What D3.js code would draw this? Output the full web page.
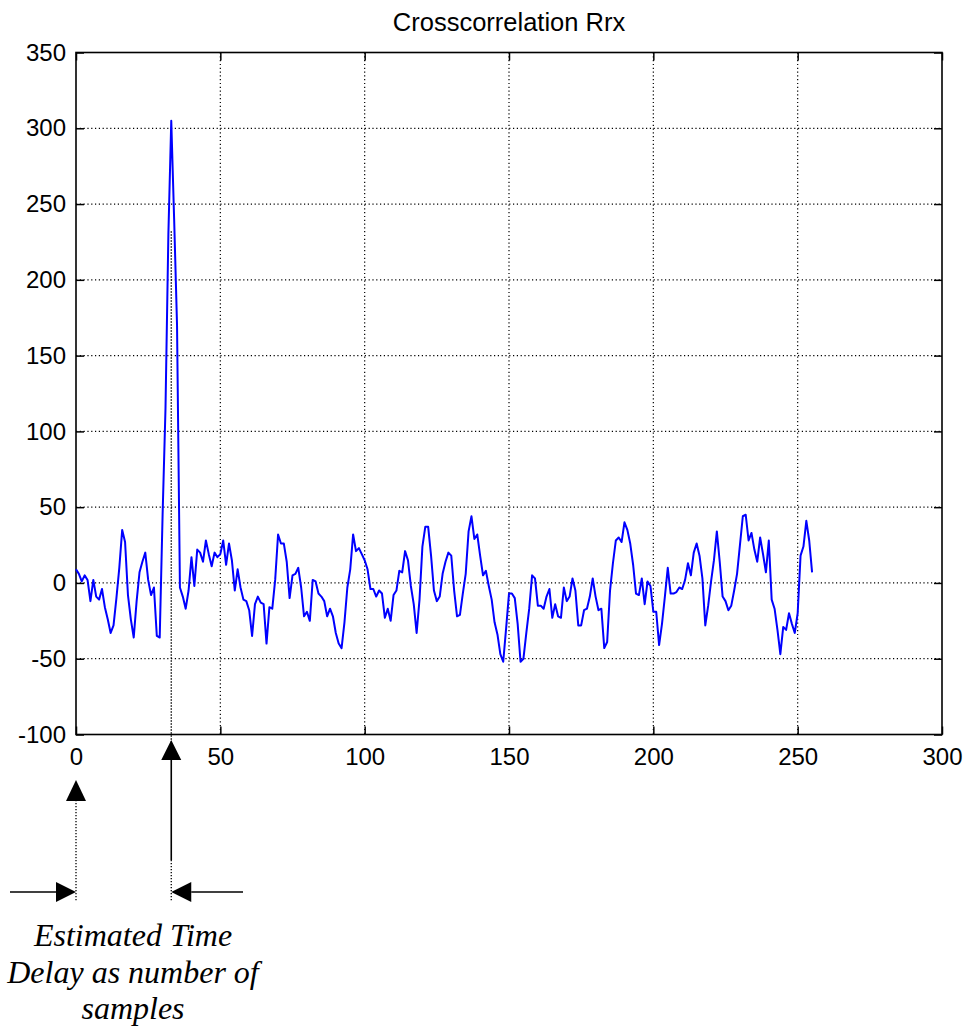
<!DOCTYPE html>
<html>
<head>
<meta charset="utf-8">
<script src="https://cdn.jsdelivr.net/npm/d3@7"></script>
<style>
  body { margin: 0; background: white; }
  svg { display: block; }
</style>
</head>
<body>
<script>
    // values of the crosscorrelation, one per sample
    rrx = [
        9, 6, 1, 5, 2, -12, 2, -9, -11, -4,
        -16, -24, -33, -28, -10, 10, 35, 27, -8, -24,
        -36, -12, 7, 14, 20, 2, -8, -3, -35, -36,
        45, 115, 230, 305, 240, 170, -3, -9, -17, -5,
        17, -2, 22, 20, 14, 28, 19, 11, 20, 17,
        19, 28, 12, 26, 15, -5, 9, -3, -11, -12,
        -18, -35, -14, -9, -13, -14, -40, -16, -17, 2,
        32, 26, 26, 14, -10, 5, 6, 10, -3, -22,
        -19, -25, 2, 1, -7, -9, -12, -22, -17, -22,
        -33, -40, -43, -26, -3, 9, 32, 21, 23, 19,
        15, 9, -4, -4, -9, -5, -7, -23, -17, -25,
        -8, -5, 8, 7, 21, 15, -2, -14, -33, -11,
        24, 37, 37, 18, -5, -12, -9, 6, 14, 20,
        18, -5, -22, -21, -7, 6, 34, 44, 29, 32,
        18, 5, 8, -2, -11, -26, -34, -47, -52, -30,
        -7, -7, -10, -27, -52, -50, -33, -17, 5, 3,
        -15, -15, -17, -9, -4, -23, -14, -22, -23, -3,
        -12, -9, 3, -5, -28, -28, -18, -17, -9, 3,
        -9, -18, -17, -43, -39, -5, 13, 28, 30, 27,
        40, 35, 26, 12, -7, -8, 3, -14, 1, -2,
        -19, -19, -41, -27, -9, 10, -7, -7, -6, -3,
        -4, 2, 13, 5, 20, 26, 18, 3, -28, -15,
        1, 15, 34, 14, -9, -12, -18, -15, -5, 6,
        25, 44, 45, 28, 33, 22, 14, 30, 19, 7,
        28, -11, -17, -31, -47, -29, -31, -20, -27, -33,
        -20, 18, 24, 41, 28, 7
    ]

    xTicks = [0, 50, 100, 150, 200, 250, 300]
    yTicks = [-100, -50, 0, 50, 100, 150, 200, 250, 300, 350]
    chartTitle = "Crosscorrelation Rrx"
    noteLines = ["Estimated Time", "Delay as number of", "samples"]
    delaySample = 33

    width = 968
    height = 1027
    plotLeft = 76, plotRight = 942, plotTop = 52.5, plotBottom = 734.5

var x = d3.scaleLinear().domain([0, 300]).range([plotLeft, plotRight])
var y = d3.scaleLinear().domain([-100, 350]).range([plotBottom, plotTop])

var svg = d3.select("body")
    .append("svg")
    .attr("width", width)
    .attr("height", height)
    .style("font-family", "'Liberation Sans', Arial, sans-serif")

// dotted grid
svg.selectAll(".vgrid")
    .data(xTicks.slice(1, -1))
    .enter()
    .append("line")
    .attr("x1", d => x(d)).attr("x2", d => x(d))
    .attr("y1", plotTop).attr("y2", plotBottom)
    .style("stroke", "black")
    .style("stroke-width", 1.2)
    .style("stroke-dasharray", "1.2,2.6")

svg.selectAll(".hgrid")
    .data(yTicks.slice(1, -1))
    .enter()
    .append("line")
    .attr("x1", plotLeft).attr("x2", plotRight)
    .attr("y1", d => y(d)).attr("y2", d => y(d))
    .style("stroke", "black")
    .style("stroke-width", 1.2)
    .style("stroke-dasharray", "1.2,2.6")

// axes, ticks pointing inwards like matlab
var styleAxis = function(g, showText){
    g.select(".domain").remove()
    g.selectAll(".tick line").style("stroke", "black").style("stroke-width", 1.5)
    g.selectAll("text")
        .style("font-size", "24px")
        .style("fill", "black")
        .style("font-family", "'Liberation Sans', Arial, sans-serif")
    if (!showText) g.selectAll("text").remove()
}

svg.append("g")
    .attr("transform", "translate(" + plotLeft + ",0)")
    .call(d3.axisLeft(y).tickValues(yTicks).tickFormat(d => "" + d).tickSize(-8).tickPadding(10))
    .call(g => styleAxis(g, true))

svg.append("g")
    .attr("transform", "translate(" + plotRight + ",0)")
    .call(d3.axisRight(y).tickValues(yTicks).tickSize(-8))
    .call(g => styleAxis(g, false))

svg.append("g")
    .attr("transform", "translate(0," + plotBottom + ")")
    .call(d3.axisBottom(x).tickValues(xTicks).tickFormat(d => "" + d).tickSize(-8).tickPadding(13))
    .call(g => styleAxis(g, true))

svg.append("g")
    .attr("transform", "translate(0," + plotTop + ")")
    .call(d3.axisTop(x).tickValues(xTicks).tickSize(-8))
    .call(g => styleAxis(g, false))

svg.append("rect")
    .attr("x", plotLeft).attr("y", plotTop)
    .attr("width", plotRight - plotLeft)
    .attr("height", plotBottom - plotTop)
    .style("fill", "none")
    .style("stroke", "black")
    .style("stroke-width", 1.6)

// the series
var line = d3.line()
    .x((d, i) => x(i))
    .y(d => y(d))

svg.append("path")
    .datum(rrx)
    .attr("d", line)
    .style("fill", "none")
    .style("stroke", "#0000ff")
    .style("stroke-width", 2)
    .style("stroke-linejoin", "round")

svg.append("text")
    .text(chartTitle)
    .attr("x", 509)
    .attr("y", 31)
    .attr("text-anchor", "middle")
    .attr("font-size", "25.5px")
    .attr("fill", "black")

// annotation: marks from sample 0 to the peak
var x0 = x(0), xd = x(delaySample)

var dotted = function(xx, ya, yb){
    svg.append("line")
        .attr("x1", xx).attr("x2", xx).attr("y1", ya).attr("y2", yb)
        .style("stroke", "black")
        .style("stroke-width", 1.3)
        .style("stroke-dasharray", "1.3,1.7")
}
var solid = function(x1, y1, x2, y2){
    svg.append("line")
        .attr("x1", x1).attr("x2", x2).attr("y1", y1).attr("y2", y2)
        .style("stroke", "black")
        .style("stroke-width", 1.6)
}
var head = function(pts){
    svg.append("polygon")
        .attr("points", pts.map(p => p.join(",")).join(" "))
        .style("fill", "black")
}

// delay marker inside the plot and below
dotted(xd, y(232), 758)
solid(xd, 758, xd, 860)
dotted(xd, 860, 902)
head([[xd, 740], [xd - 10, 760], [xd + 10, 760]])

// zero marker
dotted(x0, 800, 902)
head([[x0, 780], [x0 - 10, 801], [x0 + 10, 801]])

// horizontal arrows
solid(10, 892, 58, 892)
head([[x0, 892], [x0 - 20, 882], [x0 - 20, 902]])
solid(xd + 20, 892, 243, 892)
head([[xd, 892], [xd + 20, 882], [xd + 20, 902]])

svg.selectAll(".note")
    .data(noteLines)
    .enter()
    .append("text")
    .text(d => d)
    .attr("x", 133)
    .attr("y", (d, i) => 946 + i * 36.5)
    .attr("text-anchor", "middle")
    .attr("font-size", "32px")
    .attr("font-style", "italic")
    .attr("font-family", "'Liberation Serif', 'Times New Roman', serif")
    .attr("fill", "black")
</script>
</body>
</html>
